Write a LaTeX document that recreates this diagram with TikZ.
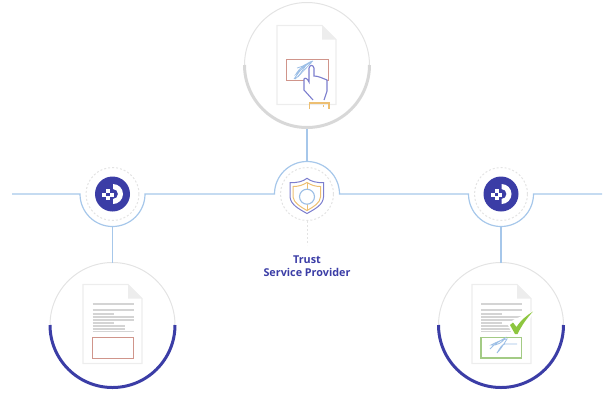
\documentclass[tikz,border=0pt]{standalone}
\usepackage{fontspec}
\setmainfont{Open Sans}
\definecolor{indigo}{HTML}{3B3DA6}
\definecolor{linkblue}{HTML}{A6C7EA}
\definecolor{ringgray}{HTML}{E3E3E3}
\definecolor{pagegray}{HTML}{EDEDED}
\definecolor{bargray}{HTML}{D4D4D4}
\definecolor{stampred}{HTML}{D0958B}
\definecolor{stampgreen}{HTML}{A3CB85}
\definecolor{checkgreen}{HTML}{8DC63F}
\definecolor{signblue}{HTML}{9DBFE6}
\definecolor{handblue}{HTML}{7C7ECE}
\definecolor{shieldorange}{HTML}{EDBF72}
\usetikzlibrary{positioning}
\tikzset{
ring/.style={draw=ringgray,circle,line width=1pt,inner sep=0,outer sep=0,minimum size=125pt},
hub/.style={circle,inner sep=0,outer sep=0,minimum size=65pt},
halo/.style={draw=ringgray,circle,dash pattern=on 2pt off 2pt,line width=1pt,inner sep=0,minimum size=53pt},
link/.style={draw=linkblue,line width=1.2pt},
sign/.style={draw=signblue,line width=.8pt},
docpage/.pic={
  \draw[pagegray,line width=1.1pt] (0,0) -- (45,0) -- (59,14) -- (59,79) -- (0,79) -- cycle;
  \fill[pagegray] (45,0) -- (59,14) -- (45,14) -- cycle;
},
doclines/.pic={
  \draw[bargray,line width=2.4pt] (0,0) -- (41,0);
  \foreach \ypos/\xend in {6/41,10/21,13/41,16/41,19/21,22/32,25/32,27.5/41}
    \draw[bargray,line width=1.1pt] (0,\ypos) -- (\xend,\ypos);
},
logo/.pic={
  \fill[indigo] (0,0) circle (17.5pt);
  \fill[white] (0.5,-10) arc[start angle=90,end angle=-90,radius=10pt] -- (0.5,5) arc[start angle=-90,end angle=90,radius=5pt] -- cycle;
  \foreach \xpos/\ypos in {-4.5/-3,-8.5/0.5,-4.5/4,-1/0.5}
    \fill[white] (\xpos-2,\ypos-2) rectangle (\xpos+2,\ypos+2);
}
}
\begin{document}
\begin{tikzpicture}[x=1pt,y=-1pt]
\useasboundingbox (0,0) rectangle (608,392);
% circles
\node (signcirc) [ring] at (307,65) {};
\node (leftcirc) [ring] at (112.5,325) {};
\node (rightcirc) [ring] at (501,325) {};
% hubs
\node (lefthub) [hub] at (112.5,194) {};
\node (trusthub) [hub] at (307,194) {};
\node (righthub) [hub] at (501,194) {};
\coordinate (leftend) at (12,194);
\coordinate (rightend) at (602,194);
\coordinate (dashend) at (307,245);
% connectors
\draw[link] (leftend) -- (lefthub.west) arc[start angle=180,end angle=360,radius=32.5pt] -- (trusthub.west)
  arc[start angle=180,end angle=0,radius=32.5pt] -- (righthub.west) arc[start angle=180,end angle=360,radius=32.5pt] -- (rightend);
\draw[link] (signcirc.south) -- (trusthub.north);
\draw[link] (lefthub.south) -- (leftcirc.north);
\draw[link] (righthub.south) -- (rightcirc.north);
% ring accents
\draw[ringgray!95!black,line width=3pt] (signcirc.west) arc[start angle=180,end angle=360,radius=62.5pt];
\draw[indigo,line width=3pt] (leftcirc.west) arc[start angle=180,end angle=360,radius=62.5pt];
\draw[indigo,line width=3pt] (rightcirc.west) arc[start angle=180,end angle=360,radius=62.5pt];
% halos
\node (lefthalo) [halo] at (lefthub) {};
\node (trusthalo) [halo] at (trusthub) {};
\node (righthalo) [halo] at (righthub) {};
\draw[ringgray,dash pattern=on 2pt off 2pt,line width=1pt] (trusthalo.south) -- (dashend);
% logos
\pic at (lefthub) {logo};
\pic at (righthub) {logo};
% shield
\draw[handblue,line width=1pt] (290,182.5) .. controls (297,183) and (303,181.5) .. (307,178.3)
  .. controls (311,181.5) and (317,183) .. (323.5,182.5) -- (323.5,197) .. controls (323,205) and (315,209) .. (307,213.5)
  .. controls (299,209) and (291,205) .. (290,197) -- cycle;
\draw[shieldorange,line width=1pt] (293,186.5) .. controls (299,186.5) and (303,185) .. (307,182.5)
  .. controls (311,185) and (315,186.5) .. (320.5,186.5) -- (320.5,197) .. controls (320,203) and (314,206.5) .. (307,210.5)
  .. controls (300,206.5) and (294,203) .. (293,197) -- cycle;
\draw[shieldorange,line width=1pt] (307,182.5) -- (307,210.5);
\node (shieldeye) [circle,draw=signblue,fill=white,line width=1.1pt,inner sep=0,minimum size=15pt] at (307,196.7) {};
% trust label
\node (trusttext) [text=indigo,align=center,font=\bfseries\fontsize{10.8}{13.3}\selectfont] at (307,266.5) {Trust\\Service Provider};
% top document
\pic at (277,25.5) {docpage};
\draw[stampred,line width=1pt] (286,59) rectangle (328,80);
\draw[sign] (294,79) .. controls (299,72) and (306,62) .. (313,61) .. controls (306,64) and (299,72) .. (296,74)
  .. controls (301,66) and (308,62) .. (311,63) .. controls (306,68) and (300,75) .. (295,79);
\draw[sign] (297,68) -- (306,65) .. controls (303,70) and (300,74) .. (298,77);
\draw[handblue,line width=1.1pt,fill=white] (313,100) -- (304,90) -- (304,79) .. controls (305,77) and (308,79) .. (309,82)
  -- (309,68) .. controls (310,64.5) and (313,64.5) .. (314,68) -- (314,76) .. controls (318,76) and (322,78) .. (327,80)
  -- (327,91) -- (324,100);
\draw[shieldorange,line width=1.1pt] (309.5,109) -- (309.5,103) -- (329,103) -- (329,109);
\draw[shieldorange,line width=.8pt] (323,105) -- (323,106.5);
% left document
\pic at (83,284.5) {docpage};
\pic at (92.5,304) {doclines};
\draw[stampred,line width=1pt] (92.5,337.5) rectangle (133,358);
% right document
\pic at (472,284.5) {docpage};
\pic at (481,304) {doclines};
\draw[stampgreen,line width=1.1pt] (481,337.5) rectangle (521.5,358);
\draw[sign] (490,349) .. controls (494,344) and (500,341) .. (505,338) .. controls (503,342) and (497,346) .. (491,345)
  .. controls (497,342) and (503,339) .. (507,339) .. controls (504,344) and (500,350) .. (497,353) .. controls (500,348) and (502,344) .. (505,344) -- (517,344);
\fill[white] (508,325) -- (513,320) -- (535,310) -- (520,336) -- (513,336) -- cycle;
\fill[checkgreen] (510,325) -- (513,322.5) -- (516.5,327) .. controls (521,320) and (526,316) .. (533,311.5)
  .. controls (527,318) and (522,325) .. (517.5,334) -- (515,334) -- cycle;
\end{tikzpicture}
\end{document}
